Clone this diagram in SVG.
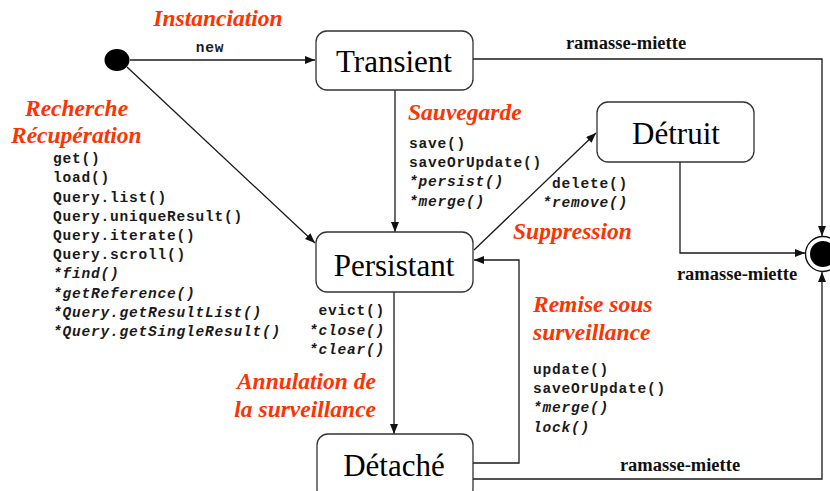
<svg xmlns="http://www.w3.org/2000/svg" width="830" height="491" viewBox="0 0 830 491">
  <style>
    .state { fill: #ffffff; stroke: #333333; stroke-width: 1.3; }
    .name { font-family: "Liberation Serif", "Times New Roman", serif; font-size: 31px; fill: #000000; text-anchor: middle; }
    .edge { fill: none; stroke: #1a1a1a; stroke-width: 1.3; }
    .act { font-family: "Liberation Serif", "Times New Roman", serif; font-size: 23.5px; font-weight: bold; font-style: italic; fill: #ff3300; }
    .code { font-family: "Liberation Mono", "Courier New", monospace; font-size: 14.5px; font-weight: bold; letter-spacing: 0.8px; fill: #1a1a1a; }
    .it { font-style: italic; }
    .gc { font-family: "Liberation Serif", "Times New Roman", serif; font-size: 18.5px; font-weight: bold; fill: #111111; text-anchor: middle; }
  </style>
  <defs>
    <marker id="arrow" markerUnits="userSpaceOnUse" markerWidth="12" markerHeight="10" refX="10" refY="4" orient="auto">
      <path d="M0,0 L10,4 L0,8 Z" fill="#111111"/>
    </marker>
  </defs>

  <rect width="830" height="491" fill="#ffffff"/>

  <!-- connectors -->
  <g id="connectors">
    <path class="edge" d="M130,60 H315" marker-end="url(#arrow)"/>
    <path class="edge" d="M127,67 L315,243" marker-end="url(#arrow)"/>
    <path class="edge" d="M395,90 V232" marker-end="url(#arrow)"/>
    <path class="edge" d="M474,250 L596,133" marker-end="url(#arrow)"/>
    <path class="edge" d="M394,292 V434" marker-end="url(#arrow)"/>
    <path class="edge" d="M473,463 H519 V260 H474" marker-end="url(#arrow)"/>
    <path class="edge" d="M473,59 H822 V236" marker-end="url(#arrow)"/>
    <path class="edge" d="M680,162 V253 H805" marker-end="url(#arrow)"/>
    <path class="edge" d="M473,479 H822 V272" marker-end="url(#arrow)"/>
  </g>

  <!-- initial pseudo-state -->
  <g id="initial">
    <ellipse cx="117" cy="60" rx="12.5" ry="11" fill="#000000"/>
  </g>

  <!-- final pseudo-state -->
  <g id="final">
    <circle cx="823" cy="254" r="17.5" fill="#ffffff" stroke="#111111" stroke-width="1.4"/>
    <circle cx="823" cy="254" r="13" fill="#000000"/>
  </g>

  <g id="transient">
    <rect class="state" x="316" y="31" width="157" height="59" rx="11"/>
    <text class="name" x="394" y="72">Transient</text>
  </g>

  <g id="persistant">
    <rect class="state" x="316" y="232" width="157" height="60" rx="11"/>
    <text class="name" x="394" y="276">Persistant</text>
  </g>

  <g id="detruit">
    <rect class="state" x="597" y="102" width="157" height="60" rx="11"/>
    <text class="name" x="676" y="144">Détruit</text>
  </g>

  <g id="detache">
    <rect class="state" x="317" y="434" width="156" height="66" rx="11"/>
    <text class="name" x="394" y="476">Détaché</text>
  </g>

  <!-- transition labels -->
  <g id="labels">
    <text class="act" x="218" y="26" text-anchor="middle">Instanciation</text>
    <text class="code" x="210" y="52" text-anchor="middle">new</text>

    <text class="act" x="25" y="116">Recherche</text>
    <text class="act" x="11" y="143">Récupération</text>
    <text class="code" x="53" y="163">get()</text>
    <text class="code" x="53" y="182">load()</text>
    <text class="code" x="53" y="202">Query.list()</text>
    <text class="code" x="53" y="221">Query.uniqueResult()</text>
    <text class="code" x="53" y="240">Query.iterate()</text>
    <text class="code" x="53" y="259">Query.scroll()</text>
    <text class="code it" x="53" y="278">*find()</text>
    <text class="code it" x="53" y="298">*getReference()</text>
    <text class="code it" x="53" y="317">*Query.getResultList()</text>
    <text class="code it" x="53" y="336">*Query.getSingleResult()</text>

    <text class="act" x="408" y="120">Sauvegarde</text>
    <text class="code" x="409" y="148">save()</text>
    <text class="code" x="409" y="167">saveOrUpdate()</text>
    <text class="code it" x="409" y="186">*persist()</text>
    <text class="code it" x="409" y="206">*merge()</text>

    <text class="code" x="628" y="188" text-anchor="end">delete()</text>
    <text class="code it" x="628" y="207" text-anchor="end">*remove()</text>
    <text class="act" x="513" y="239">Suppression</text>

    <text class="code" x="385" y="315" text-anchor="end">evict()</text>
    <text class="code it" x="385" y="335" text-anchor="end">*close()</text>
    <text class="code it" x="385" y="354" text-anchor="end">*clear()</text>
    <text class="act" x="376" y="389" text-anchor="end">Annulation de</text>
    <text class="act" x="376" y="417" text-anchor="end">la surveillance</text>

    <text class="act" x="533" y="312">Remise sous</text>
    <text class="act" x="533" y="340">surveillance</text>
    <text class="code" x="533" y="374">update()</text>
    <text class="code" x="533" y="393">saveOrUpdate()</text>
    <text class="code it" x="533" y="412">*merge()</text>
    <text class="code it" x="533" y="432">lock()</text>

    <text class="gc" x="626" y="49">ramasse-miette</text>
    <text class="gc" x="737" y="280">ramasse-miette</text>
    <text class="gc" x="680" y="471">ramasse-miette</text>
  </g>
</svg>
